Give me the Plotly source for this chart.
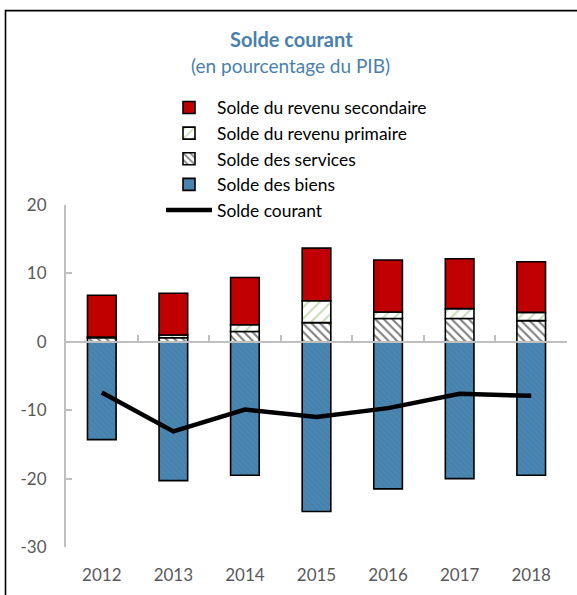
import plotly.graph_objects as go

years = ["2012", "2013", "2014", "2015", "2016", "2017", "2018"]
goods = [-14.3, -20.3, -19.5, -24.8, -21.5, -20.0, -19.5]
services = [0.6, 0.6, 1.5, 2.8, 3.4, 3.4, 3.1]
primary = [0.1, 0.4, 1.0, 3.2, 0.95, 1.45, 1.2]
secondary = [6.1, 6.1, 6.9, 7.7, 7.6, 7.3, 7.4]
current = [-7.4, -13.1, -9.9, -11.0, -9.7, -7.6, -7.9]

y_ticks = [-30, -20, -10, 0, 10, 20]
y_ticktext = ["-30", "-20", "-10", "0", "10", "20"]

FONT = "Lato"
GREY = "#595959"
AX = "#BFBFBF"

fig = go.Figure()
outline = dict(color="black", width=1.6)

fig.add_trace(go.Bar(x=years, y=goods, name="Solde des biens", legendrank=4,
                     marker=dict(color="#4A86B0", line=outline,
                                 pattern=dict(shape="\\", fgcolor="#5590B8", bgcolor="#4682AD",
                                              size=4, solidity=0.3)),
                     width=0.4))
fig.add_trace(go.Bar(x=years, y=services, name="Solde des services", legendrank=3,
                     marker=dict(color="white", line=outline,
                                 pattern=dict(shape="\\", fgcolor="black", bgcolor="white",
                                              size=6, solidity=0.35)),
                     width=0.4))
fig.add_trace(go.Bar(x=years, y=primary, name="Solde du revenu primaire", legendrank=2,
                     marker=dict(color="white", line=outline,
                                 pattern=dict(shape="/", fgcolor="#8DB96B", bgcolor="white",
                                              size=8, solidity=0.25)),
                     width=0.4))
fig.add_trace(go.Bar(x=years, y=secondary, name="Solde du revenu secondaire", legendrank=1,
                     marker=dict(color="#C00000", line=outline),
                     width=0.4))
fig.add_trace(go.Scatter(x=years, y=current, name="Solde courant", legendrank=5,
                         mode="lines", line=dict(color="black", width=4.5),
                         xaxis="x2", yaxis="y"))

L, R, T, B = 66, 10, 205, 46
W, H = 577, 595
pw, ph = W - L - R, H - T - B

def px(x):
    return (x - L) / pw

def py(y):
    return (H - B - y) / ph

fig.update_layout(
    width=W, height=H,
    margin=dict(l=L, r=R, t=T, b=B),
    paper_bgcolor="white", plot_bgcolor="white",
    barmode="relative",
    font=dict(family=FONT, color=GREY, size=17),
    showlegend=True,
    legend=dict(x=px(161), y=py(89), xanchor="left", yanchor="top",
                xref="paper", yref="paper",
                bgcolor="rgba(0,0,0,0)", font=dict(family=FONT, size=17.4, color="black"),
                itemwidth=46, tracegroupgap=0),
    xaxis=dict(type="category", range=[-0.5, 6.5], showline=False, ticks="",
               showgrid=False, zeroline=False, tickfont=dict(size=17, color=GREY),
               ticklabelstandoff=16),
    xaxis2=dict(type="category", range=[-0.5, 6.5], overlaying="x", anchor="free",
                position=0.6, side="bottom", showline=True, linecolor=AX, linewidth=2,
                ticks="inside", ticklen=6, tickcolor=AX, tickwidth=2, tickson="boundaries",
                showticklabels=False, showgrid=False, zeroline=False),
    yaxis=dict(range=[-30, 20], tickvals=y_ticks, ticktext=y_ticktext,
               showline=True, linecolor=AX, linewidth=2, ticks="inside", ticklen=6,
               tickcolor=AX, tickwidth=2, showgrid=False, zeroline=False,
               tickfont=dict(size=17, color=GREY), ticklabelstandoff=14),
    annotations=[
        dict(text="<b>Solde courant</b>", x=px(291), y=py(38.5), xref="paper", yref="paper",
             showarrow=False, font=dict(family=FONT, size=20, color="#4A7FAF"),
             xanchor="center", yanchor="middle"),
        dict(text="(en pourcentage du PIB)", x=px(290), y=py(64.5), xref="paper", yref="paper",
             showarrow=False, font=dict(family=FONT, size=19, color="#4A7FAF"),
             xanchor="center", yanchor="middle"),
    ],
    shapes=[
        dict(type="rect", xref="paper", yref="paper",
             x0=px(5.5), x1=px(590), y0=py(610), y1=py(9.5),
             line=dict(color="black", width=1.6), fillcolor="rgba(0,0,0,0)", layer="above"),
    ],
)

fig.write_html("out.html", config={"displayModeBar": False},
               post_script="document.body.style.margin='0';")
